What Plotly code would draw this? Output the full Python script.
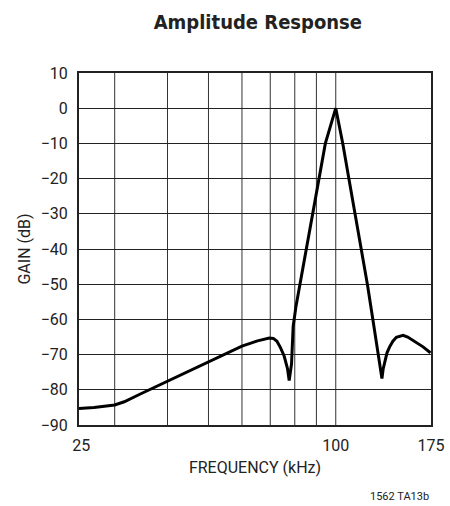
import numpy as np
import plotly.graph_objects as go

# Data
freq_khz = [24.7, 26.8, 30.0, 31.6, 34.5, 40.1, 44.8, 50.1, 55.4, 60.0, 65.3, 69.6,
            71.2, 72.6, 74.0, 75.5, 76.9, 77.6, 78.6, 79.3, 80.5, 82.3, 85.2, 88.2,
            91.0, 94.5, 100.0, 103.9, 107.4, 111.2, 114.9, 118.8, 122.4,
            124.7, 126.3, 127.5, 128.6, 129.5, 130.5, 132.2, 134.1, 136.5, 139.1,
            144.3, 148.0, 152.4, 156.5, 160.9, 167.5]
gain_db = [-85.3, -85.0, -84.3, -83.4, -81.2, -77.5, -74.6, -71.8, -69.4, -67.6, -66.1,
           -65.3, -65.4, -66.2, -68.0, -70.4, -74.0, -77.4, -72.6, -62.0, -56.4, -50.0,
           -40.0, -30.0, -20.0, -10.0, 0.0, -10.0, -20.0, -30.0, -40.0,
           -50.0, -60.0, -65.9, -70.0, -73.5, -76.8, -74.0, -72.0, -69.5, -67.8, -66.2,
           -65.1, -64.5, -65.0, -65.9, -66.8, -67.8, -69.5]

x_grid = [30, 40, 50, 60, 70, 80, 90, 100]
x_range = [24.7, 168]
x_tick_vals = [25, 100, 168]
x_tick_text = ["25", "100", "175"]
y_ticks = list(range(-90, 11, 10))

TITLE_FONT = "DejaVu Sans Condensed, Roboto, sans-serif"
FONT = "Roboto, DejaVu Sans Condensed, sans-serif"

fig = go.Figure()
fig.add_trace(go.Scatter(x=freq_khz, y=gain_db, mode="lines",
                         line=dict(color="black", width=3), hoverinfo="skip"))

shapes = []
for g in x_grid:
    shapes.append(dict(type="line", xref="x", yref="paper", x0=g, x1=g, y0=0, y1=1,
                       line=dict(color="#333", width=1), layer="below"))
fig.update_layout(shapes=shapes)

fig.update_layout(
    width=450, height=506,
    margin=dict(l=79, r=19, t=73, b=81, autoexpand=False),
    paper_bgcolor="white", plot_bgcolor="white",
    showlegend=False,
    title=dict(text="<b>Amplitude Response</b>", x=0.573, xanchor="center",
               y=0.957, yanchor="middle",
               font=dict(family=TITLE_FONT, size=20, color="#222")),
    font=dict(family=FONT, size=16, color="#222"),
)
fig.update_xaxes(type="log", range=[np.log10(x_range[0]), np.log10(x_range[1])],
                 tickvals=x_tick_vals, ticktext=x_tick_text, showgrid=False,
                 showline=True, linecolor="#222", linewidth=2, mirror=True,
                 ticks="", ticklabelstandoff=5, automargin=False,
                 title=dict(text="FREQUENCY (kHz)", font=dict(size=16), standoff=8),
                 zeroline=False)
fig.update_yaxes(range=[-90, 10], tickvals=y_ticks,
                 ticktext=[("\u2212" + str(-v)) if v < 0 else str(v) for v in y_ticks],
                 showgrid=True, gridcolor="#222", gridwidth=1,
                 showline=True, linecolor="#222", linewidth=2, mirror=True,
                 ticks="", ticklabelstandoff=6, automargin=False,
                 title=dict(text="GAIN (dB)", font=dict(size=16), standoff=6),
                 zeroline=False)

fig.add_annotation(text="1562 TA13b", xref="paper", yref="paper", x=1.0, y=-0.203,
                   xanchor="right", yanchor="middle", showarrow=False,
                   font=dict(family=FONT, size=11, color="#222"))

fig.write_html("out.html", config={"displayModeBar": False},
               post_script="document.body.style.margin='0';")
